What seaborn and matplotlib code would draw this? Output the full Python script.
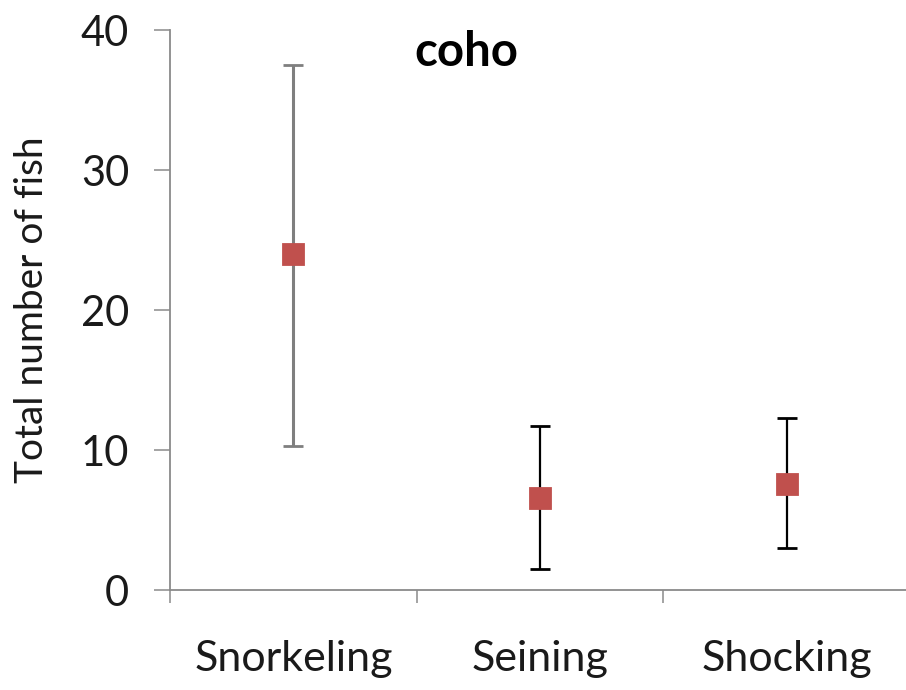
import matplotlib
matplotlib.use("Agg")
import matplotlib.pyplot as plt
import seaborn as sns
import pandas as pd

# Survey methods and coho counts (mean with lower / upper bounds)
methods = ["Snorkeling", "Seining", "Shocking"]
mean_count = [24.0, 6.6, 7.6]
lower_bound = [10.3, 1.5, 3.0]
upper_bound = [37.5, 11.7, 12.3]
y_ticks = [0, 10, 20, 30, 40]

df = pd.DataFrame({"method": methods, "count": mean_count})

sns.set_theme(style="white")
plt.rcParams["font.family"] = ["Lato", "DejaVu Sans"]

fig = plt.figure(figsize=(9.06, 6.9), dpi=100)
ax = fig.add_axes([170 / 906, 1 - 590 / 690, 740 / 906, 560 / 690])

axis_grey = "#8a8a8a"
marker_red = "#c0504d"

# error bars: grey for snorkeling, black for the net/electro methods
bar_colors = ["#7f7f7f", "#000000", "#000000"]
bar_widths = [2.2, 1.6, 1.6]
for i, (m, lo, hi) in enumerate(zip(mean_count, lower_bound, upper_bound)):
    ax.errorbar(i, m, yerr=[[m - lo], [hi - m]], fmt="none",
                ecolor=bar_colors[i], elinewidth=bar_widths[i],
                capsize=7, capthick=2.0, zorder=2)

sns.pointplot(data=df, x="method", y="count", order=methods,
              linestyle="none", errorbar=None, marker="s",
              markersize=14, color=marker_red, ax=ax, zorder=3)

ax.set_xlim(-0.5, 2.5)
ax.set_ylim(0, 40)
ax.set_yticks(y_ticks)
ax.set_yticklabels([str(v) for v in y_ticks])

# category boundaries carry the tick marks, names sit centred between them
ax.set_xticks([-0.5, 0.5, 1.5, 2.5])
ax.set_xticklabels([])
ax.set_xticks([0, 1, 2], minor=True)
ax.set_xticklabels(methods, minor=True)

ax.tick_params(axis="y", which="major", direction="out", length=11.5,
               width=1.1, color=axis_grey, labelsize=30, pad=18,
               labelcolor="#1a1a1a", left=True)
ax.tick_params(axis="x", which="major", direction="out", length=9,
               width=1.1, color=axis_grey, bottom=True)
ax.tick_params(axis="x", which="minor", length=0, labelsize=31, pad=36,
               labelcolor="#1a1a1a")

for side in ["top", "right"]:
    ax.spines[side].set_visible(False)
for side in ["left", "bottom"]:
    ax.spines[side].set_color(axis_grey)
    ax.spines[side].set_linewidth(1.3)

ax.set_xlabel("")
ax.set_ylabel("Total number of fish", fontsize=28, color="#1a1a1a", labelpad=22)
ax.text(0.7, 38.4, "coho", fontsize=34, fontweight="bold", ha="center",
        va="center", color="#000000")

fig.savefig("out.png", dpi=100)
